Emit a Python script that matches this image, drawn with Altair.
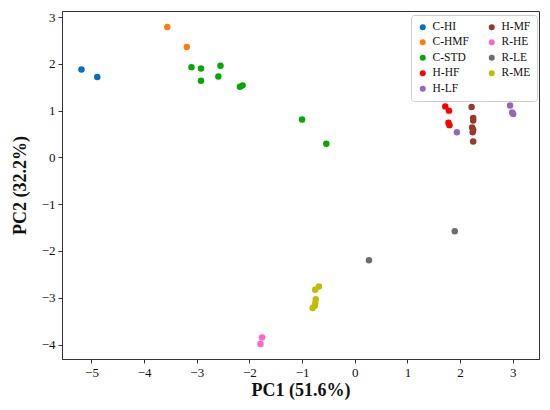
import altair as alt
import pandas as pd

# sample groups and PCA scores
groups = (["C-HI"] * 2 + ["C-HMF"] * 2 + ["C-STD"] * 9 + ["H-HF"] * 4 +
          ["H-LF"] * 4 + ["H-MF"] * 7 + ["R-HE"] * 2 + ["R-LE"] * 2 + ["R-ME"] * 6)
pc1 = [-5.19, -4.89,
       -3.56, -3.19,
       -3.10, -2.92, -2.92, -2.55, -2.59, -2.18, -2.13, -1.00, -0.54,
       1.72, 1.79, 1.78, 1.80,
       1.94, 2.95, 3.01, 2.99,
       2.22, 2.25, 2.25, 2.23, 2.24, 2.25, 2.25,
       -1.76, -1.79,
       1.90, 0.27,
       -0.68, -0.75, -0.74, -0.75, -0.80, -0.76]
pc2 = [1.88, 1.72,
       2.79, 2.36,
       1.93, 1.90, 1.64, 1.96, 1.73, 1.51, 1.54, 0.81, 0.29,
       1.09, 1.00, 0.74, 0.69,
       0.54, 1.11, 0.93, 0.96,
       1.08, 0.84, 0.79, 0.64, 0.54, 0.59, 0.34,
       -3.85, -3.99,
       -1.58, -2.20,
       -2.76, -2.83, -3.03, -3.12, -3.22, -3.17]

legend_order = ["C-HI", "C-HMF", "C-STD", "H-HF", "H-LF", "H-MF", "R-HE", "R-LE", "R-ME"]
legend_colors = ["#0070C0", "#FF7F0E", "#00AA00", "#FF0000", "#9467BD",
                 "#983A2B", "#FF66CC", "#6E6E6E", "#C2BC00"]

x_ticks = [-5, -4, -3, -2, -1, 0, 1, 2, 3]
y_ticks = [-4, -3, -2, -1, 0, 1, 2, 3]

df = pd.DataFrame({"group": groups, "PC1": pc1, "PC2": pc2})

FONT = "Liberation Serif"

chart = alt.Chart(df).mark_circle(size=42, opacity=1).encode(
    x=alt.X("PC1:Q",
            scale=alt.Scale(domain=[-5.56, 3.5], nice=False, zero=False),
            axis=alt.Axis(values=x_ticks, title="PC1 (51.6%)", format="d",
                          labelPadding=3, titlePadding=2)),
    y=alt.Y("PC2:Q",
            scale=alt.Scale(domain=[-4.31, 3.13], nice=False, zero=False),
            axis=alt.Axis(values=y_ticks, title="PC2 (32.2%)", format="d",
                          labelPadding=3, titlePadding=12)),
    color=alt.Color("group:N",
                    scale=alt.Scale(domain=legend_order, range=legend_colors),
                    legend=alt.Legend(title=None, orient="none",
                                      legendX=349, legendY=4,
                                      columns=2, columnPadding=17,
                                      symbolType="circle", symbolSize=36,
                                      symbolStrokeWidth=0,
                                      labelFont=FONT, labelFontSize=11.5,
                                      labelColor="#111",
                                      rowPadding=2.5, padding=6,
                                      strokeColor="#cccccc",
                                      cornerRadius=3,
                                      fillColor="white")),
).properties(
    width=477, height=348,
    autosize=alt.AutoSizeParams(type="none"),
    padding={"left": 54, "top": 3, "right": 1, "bottom": 42},
).configure_view(
    stroke="#333333", strokeWidth=1
).configure_axis(
    grid=False,
    domainColor="#333333",
    tickColor="#333333",
    tickSize=4,
    labelFont=FONT, labelFontSize=13, labelColor="#111",
    titleFont=FONT, titleFontSize=18, titleFontWeight="bold", titleColor="#111",
)

chart.save("out.html", embed_options={"renderer": "svg", "actions": False})
